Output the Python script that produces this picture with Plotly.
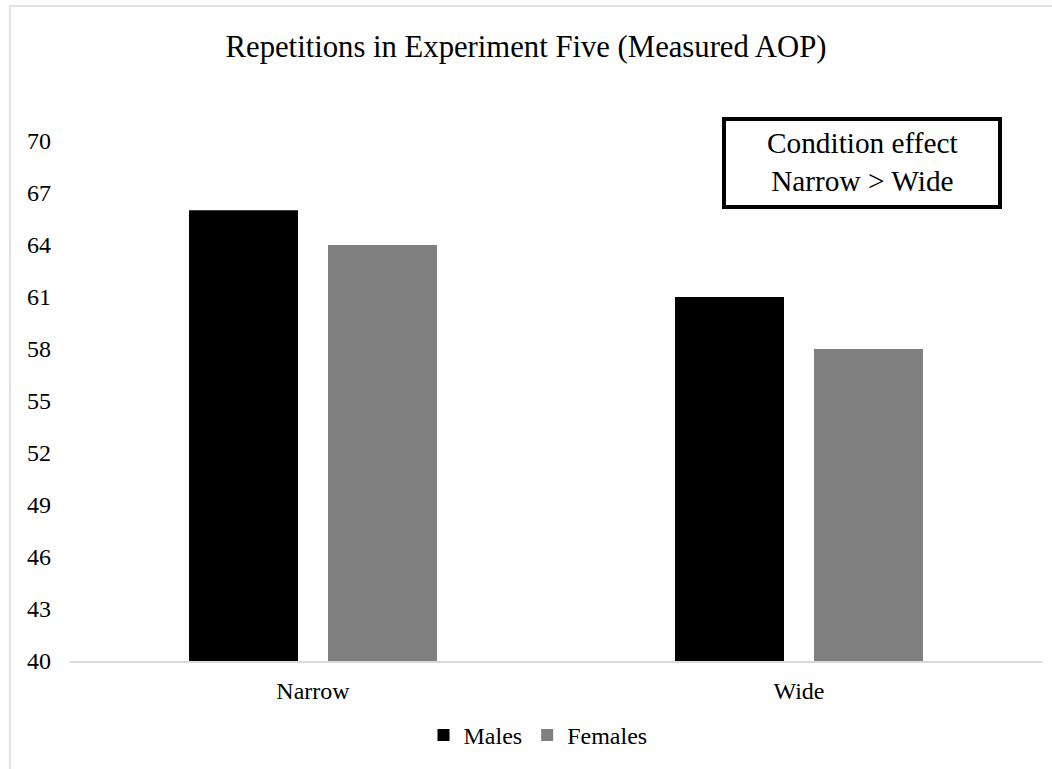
import plotly.graph_objects as go

# Mean repetitions by stimulus condition and participant sex
conditions = ["Narrow", "Wide"]
males = [66, 61]
females = [64, 58]

y_ticks = [40, 43, 46, 49, 52, 55, 58, 61, 64, 67, 70]

serif = "Liberation Serif, Times New Roman, serif"

fig = go.Figure()
fig.add_trace(go.Bar(name="Males", x=conditions, y=males,
                     marker=dict(color="#000000", line=dict(width=0))))
fig.add_trace(go.Bar(name="Females", x=conditions, y=females,
                     marker=dict(color="#808080", line=dict(width=0))))

fig.update_layout(
    width=1052, height=769,
    margin=dict(l=70, r=10, t=141, b=108),
    paper_bgcolor="white", plot_bgcolor="white",
    barmode="group", bargap=0.428, bargroupgap=0.216,
    font=dict(family=serif, size=24, color="#000000"),
    title=dict(text="Repetitions in Experiment Five (Measured AOP)",
               font=dict(family=serif, size=30.7, color="#000000"),
               x=0.5, xref="container", xanchor="center",
               y=1 - 46 / 769, yref="container", yanchor="middle"),
    legend=dict(orientation="h", x=(538 - 70) / 972, xanchor="center",
                y=-0.143, yanchor="middle",
                font=dict(family=serif, size=24, color="#000000"),
                itemwidth=30, tracegroupgap=0),
    showlegend=True,
)

fig.update_xaxes(showline=True, linecolor="#d9d9d9", linewidth=1.5,
                 showgrid=False, ticks="", ticklabelstandoff=7,
                 tickfont=dict(family=serif, size=24, color="#000000"))
fig.update_yaxes(range=[40, 70], tickvals=y_ticks, showline=False,
                 showgrid=False, zeroline=False, ticks="",
                 ticklabelstandoff=18,
                 tickfont=dict(family=serif, size=24, color="#000000"))

# Outer chart frame: left and top edges only
fx0 = (10 - 70) / 972
fy1 = (661 - 6) / 520
fig.add_shape(type="path", xref="paper", yref="paper",
              path=f"M {fx0},-0.5 L {fx0},{fy1} L 1.2,{fy1}",
              line=dict(color="#d9d9d9", width=1.5), layer="below")

# Boxed note on the condition effect
fig.add_shape(type="rect", xref="paper", yref="paper",
              x0=(724 - 70) / 972, x1=(1000 - 70) / 972,
              y0=(661 - 207) / 520, y1=(661 - 119) / 520,
              line=dict(color="#000000", width=4), fillcolor="white")
fig.add_annotation(text="Condition effect<br>Narrow > Wide",
                   xref="paper", yref="paper",
                   x=(862 - 70) / 972, y=(661 - 162) / 520,
                   xanchor="center", yanchor="middle", showarrow=False,
                   font=dict(family=serif, size=29.3, color="#000000"))

fig.write_html("out.html")
